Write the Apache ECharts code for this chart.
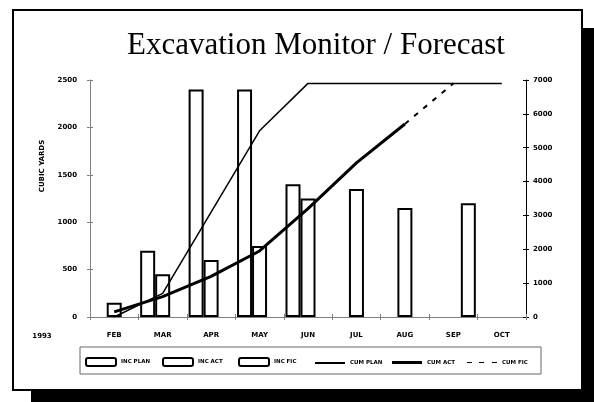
<!DOCTYPE html>
<html>
<head>
<meta charset="utf-8">
<script src="https://cdn.jsdelivr.net/npm/echarts@6/dist/echarts.min.js"></script>
<style>
html,body{margin:0;padding:0;background:#fff;}
#c{width:594px;height:402px;}
</style>
</head>
<body>
<div id="c"></div>
<script>
const categories = ['FEB','MAR','APR','MAY','JUN','JUL','AUG','SEP','OCT'];
const incPlan = [null,700,2400,2400,1400,null,null,null,null];
const incAct  = [150,450,600,750,1250,1350,1150,null,null];
const incFic  = [null,null,null,null,null,null,null,1200,null];
const cumPlan = [0,700,3100,5500,6900,6900,6900,6900,6900];
const cumAct  = [150,600,1200,1950,3200,4550,5700,null,null];
const cumFic  = [null,null,null,null,null,null,5700,6900,null];
const leftTicks = [0,500,1000,1500,2000,2500];
const rightTicks = [0,1000,2000,3000,4000,5000,6000,7000];
const seriesNames = ['INC PLAN','INC ACT','INC FIC','CUM PLAN','CUM ACT','CUM FIC'];
const yearLabel = '1993';
const titleText = 'Excavation Monitor / Forecast';
const yName = 'CUBIC YARDS';

const lblFont = {fontFamily:'DejaVu Sans', fontWeight:'bold', fontSize:7, color:'#000', formatter:(v)=>String(v)};
const grid = {left:90, right:68, top:80, bottom:85};

function yAx(min,max,interval,pos,opts){
  return Object.assign({
    type:'value', min:min, max:max, interval:interval, position:pos,
    splitLine:{show:false}
  }, opts);
}
const grayLine = {color:'#808080', width:1};
const blackLine = {color:'#000', width:1};

const legendXs = [85,162,238,315,392,467];
const legendIcons = ['roundRect','roundRect','roundRect','rect','rect',
  'path://M0,0h5v1h-5z M12,0h5v1h-5z M25,0h5v1h-5z'];
const legendH = [8,8,8,2,3,3];
const legends = seriesNames.map((n,i)=>({
  data:[{name:n, icon:legendIcons[i]}], left:legendXs[i], top:361 - legendH[i]/2, padding:0,
  itemWidth:30, itemHeight:legendH[i], itemGap:0,
  textStyle:{fontFamily:'DejaVu Sans', fontWeight:'bold', fontSize:5.5, color:'#000'}
}));

const barStyle = {color:'#fff', borderColor:'#000', borderWidth:2};

const option = {
  animation:false,
  backgroundColor:'#fff',
  title:{
    text:titleText, left:311, top:25, textAlign:'center',
    textStyle:{fontFamily:'Liberation Serif', fontWeight:'normal', fontSize:31, color:'#000',
      textShadowColor:'#777', textShadowOffsetX:1, textShadowOffsetY:1, textShadowBlur:0}
  },
  legend:legends,
  grid:grid,
  xAxis:[
    {type:'category', data:categories, boundaryGap:true,
     axisLine:{lineStyle:grayLine}, axisTick:{show:true, length:3, lineStyle:grayLine},
     axisLabel:{margin:15, fontFamily:'DejaVu Sans', fontWeight:'bold', fontSize:7, color:'#000'}},
    {type:'category', data:categories, boundaryGap:true, position:'bottom',
     axisLine:{show:false}, axisTick:{show:true, inside:true, length:3, lineStyle:grayLine},
     axisLabel:{show:false}}
  ],
  yAxis:[
    yAx(leftTicks[0], leftTicks[leftTicks.length-1], 500, 'left', {
      axisLine:{show:true, lineStyle:grayLine}, axisTick:{show:true, length:3, lineStyle:grayLine},
      axisLabel:Object.assign({margin:13}, lblFont)}),
    yAx(rightTicks[0], rightTicks[rightTicks.length-1], 1000, 'right', {
      axisLine:{show:true, lineStyle:blackLine}, axisTick:{show:true, length:3, lineStyle:blackLine},
      axisLabel:Object.assign({margin:7}, lblFont)}),
    yAx(leftTicks[0], leftTicks[leftTicks.length-1], 500, 'left', {
      axisLine:{show:false}, axisTick:{show:true, inside:true, length:3, lineStyle:grayLine},
      axisLabel:{show:false}}),
    yAx(rightTicks[0], rightTicks[rightTicks.length-1], 1000, 'right', {
      axisLine:{show:false}, axisTick:{show:true, inside:true, length:3, lineStyle:blackLine},
      axisLabel:{show:false}})
  ],
  series:[
    {name:seriesNames[0], type:'bar', data:incPlan, barWidth:15, barGap:0, itemStyle:barStyle},
    {name:seriesNames[1], type:'bar', data:incAct, barWidth:15, barGap:0, itemStyle:barStyle},
    {name:seriesNames[2], type:'bar', data:incFic, barWidth:15, barGap:0, itemStyle:barStyle},
    {name:seriesNames[3], type:'line', yAxisIndex:1, data:cumPlan, symbol:'none', z:5,
     lineStyle:{color:'#000', width:1.5}, itemStyle:{color:'#000'}},
    {name:seriesNames[4], type:'line', yAxisIndex:1, data:cumAct, symbol:'none', z:5,
     lineStyle:{color:'#000', width:3}, itemStyle:{color:'#000'}},
    {name:seriesNames[5], type:'line', yAxisIndex:1, data:cumFic, symbol:'none', z:5,
     lineStyle:{color:'#000', width:2, type:[5,7]}, itemStyle:{color:'#000'}}
  ],
  graphic:[
    {type:'rect', z:-10, shape:{x:31,y:28,width:580,height:390}, style:{fill:'#000'}},
    {type:'rect', z:-9, shape:{x:13,y:10,width:569,height:380}, style:{fill:'#fff', stroke:'#000', lineWidth:2}},
    {type:'rect', z:-8, shape:{x:80,y:347,width:461,height:27}, style:{fill:'none', stroke:'#666', lineWidth:1}},
    {type:'text', x:42, y:166, rotation:Math.PI/2,
     style:{text:yName, align:'center', verticalAlign:'middle', fill:'#000',
       font:'bold 7px "DejaVu Sans"'}},
    {type:'text', x:42, y:336,
     style:{text:yearLabel, align:'center', verticalAlign:'middle', fill:'#000',
       font:'bold 7px "DejaVu Sans"'}}
  ]
};
const chart = echarts.init(document.getElementById('c'), null, {renderer:'canvas'});
chart.setOption(option);
</script>
</body>
</html>
